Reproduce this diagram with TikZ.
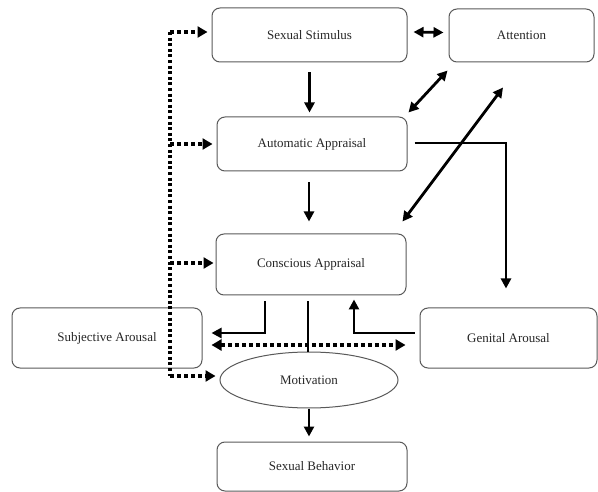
\documentclass[tikz,border=0pt]{standalone}
\usepackage{fontspec}
\setmainfont{Liberation Serif}
\usetikzlibrary{arrows.meta,calc,shapes.geometric}
\begin{document}
\begin{tikzpicture}[x=1pt,y=-1pt,
  font=\fontsize{13}{15}\selectfont,
  box/.style={draw=black!65,line width=1pt,rounded corners=8pt,text=black!85,inner sep=0pt},
  oval/.style={draw=black!65,line width=1pt,ellipse,text=black!85,inner sep=0pt},
  arr/.style={line width=2.8pt,-{Triangle[length=10pt,width=10pt]}},
  dbl/.style={line width=2.8pt,{Triangle[length=10pt,width=10pt]}-{Triangle[length=10pt,width=10pt]}},
  plain/.style={line width=2.8pt},
  dotl/.style={line width=3.2pt,dash pattern=on 3pt off 2.6pt},
  dotarr/.style={line width=3.2pt,dash pattern=on 4pt off 3pt,-{Triangle[length=10pt,width=11pt]}},
  dotdbl/.style={line width=3.2pt,dash pattern=on 4pt off 3pt,{Triangle[length=10pt,width=11pt]}-{Triangle[length=10pt,width=11pt]}}
]
\useasboundingbox (0,0) rectangle (598,492);

\node[box,minimum width=195pt,minimum height=54pt] (ss) at (309.5,35) {Sexual Stimulus};
\node[box,minimum width=145pt,minimum height=53pt] (att) at (521.5,35.5) {Attention};
\node[box,minimum width=190pt,minimum height=54pt] (aa) at (312,144) {Automatic Appraisal};
\node[box,minimum width=190pt,minimum height=61pt] (ca) at (311,264.5) {Conscious Appraisal};
\node[box,minimum width=190pt,minimum height=60pt] (sa) at (107,338) {Subjective Arousal};
\node[box,minimum width=177pt,minimum height=60pt] (ga) at (508.5,338) {Genital Arousal};
\node[oval,minimum width=178pt,minimum height=56pt] (mot) at (309,380) {Motivation};
\node[box,minimum width=190pt,minimum height=49pt] (sb) at (312,466.5) {Sexual Behavior};

% solid connectors
\draw[dbl] ($(ss.east)+(6,-3)$) -- ($(att.west)+(-5,-3)$);
\draw[arr] ($(ss.south)+(0,10)$) -- ($(ss.south)+(0,50)$);
\draw[dbl] ($(aa.north east)+(1,-4)$) -- ($(att.south west)+(-1,8)$);
\draw[dbl] ($(att.south)+(-18.5,25)$) -- ($(ca.north east)+(-4,-12)$);
\draw[arr] ($(aa.east)+(7,-1)$) -| ($(ga.north)+(-2.5,-19)$);
\draw[arr] ($(aa.south)+(-3,11)$) -- ($(ca.north)+(-2,-12)$);
\draw[arr] ($(ca.south)+(-46,6)$) |- ($(sa.east)+(9,-5)$);
\draw[plain] ($(ca.south)+(-3,6)$) -- ($(mot.north)+(-1,0)$);
\draw[arr] ($(ga.west)+(-5,-5)$) -| ($(ca.south)+(43,4)$);
\draw[arr] (mot.south) -- ($(sb.north)+(-3,-5)$);

% dotted connectors
\coordinate (dtop) at (170,32);
\coordinate (dbot) at (170,376);
\draw[dotl] (dtop) -- (dbot);
\draw[dotarr] (dtop) -- ($(ss.west)+(-4,-3)$);
\draw[dotarr] (dtop |- aa.west) -- ($(aa.west)+(-4,0)$);
\draw[dotarr] ($(dtop |- ca.west)+(0,-1.5)$) -- ($(ca.west)+(-2,-1.5)$);
\draw[dotarr] (dbot) -- ($(mot.west)+(-4,-4)$);
\draw[dotdbl] ($(sa.east)+(9,7)$) -- ($(ga.west)+(-14,7)$);
\end{tikzpicture}
\end{document}
